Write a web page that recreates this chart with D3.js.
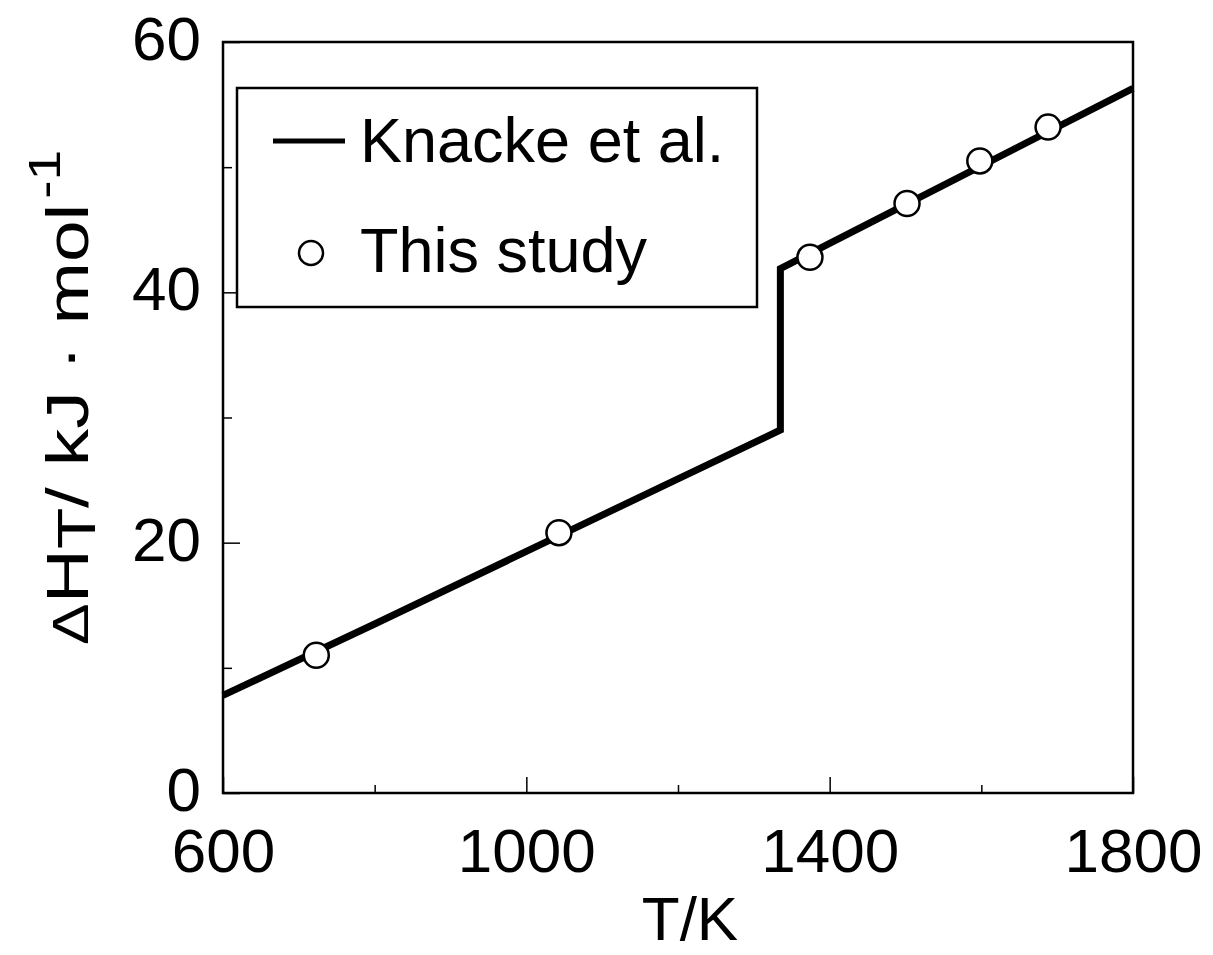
<!DOCTYPE html>
<html><head><meta charset="utf-8">
<script src="https://cdn.jsdelivr.net/npm/d3@7"></script>
<style>
body{margin:0;background:#fff}
text{font-family:"Liberation Sans",Arial,Helvetica,sans-serif;fill:#000}
</style></head>
<body><svg id="c" width="1213" height="955"></svg>
<script>
// Knacke et al. curve (T/K, ΔH_T kJ/mol)
const lineT = [600, 800, 1000, 1200, 1335, 1335, 1500, 1800];
const lineH = [7.8, 13.5, 19.3, 25.1, 29.0, 41.9, 47.0, 56.3];
// This study
const studyT = [723, 1043, 1374, 1502, 1598, 1688];
const studyH = [11.0, 20.8, 42.8, 47.1, 50.5, 53.2];
// ticks
const xMajor = [600, 1000, 1400, 1800];
const xMinor = [800, 1200, 1600];
const yMajor = [0, 20, 40, 60];
const yMinor = [10, 30, 50];
const legendLabels = ["Knacke et al.", "This study"];

const L = 223, R = 1133, T = 42, B = 793;
const svg = d3.select("#c");
const x = d3.scaleLinear().domain([600, 1800]).range([L, R]);
const y = d3.scaleLinear().domain([0, 60]).range([B, T]);

const fs = 62;
// x axis
const gx = svg.append("g").attr("transform", `translate(0,${B})`)
  .call(d3.axisBottom(x).tickValues(xMajor).tickFormat(d3.format("d"))
    .tickSizeInner(-16).tickSizeOuter(0).tickPadding(35));
gx.select(".domain").remove();
gx.selectAll("text").attr("font-size", fs).attr("font-family", null);
gx.selectAll("line").attr("stroke-width", 1.5);
const gxm = svg.append("g").attr("transform", `translate(0,${B})`)
  .call(d3.axisBottom(x).tickValues(xMinor).tickFormat("").tickSizeInner(-8).tickSizeOuter(0));
gxm.select(".domain").remove();
gxm.selectAll("line").attr("stroke-width", 1.5);

// y axis
const gy = svg.append("g").attr("transform", `translate(${L},0)`)
  .call(d3.axisLeft(y).tickValues(yMajor).tickFormat(d3.format("d"))
    .tickSizeInner(-17).tickSizeOuter(0).tickPadding(22));
gy.select(".domain").remove();
gy.selectAll("text").attr("font-size", fs).attr("font-family", null).attr("dy", "0.28em");
gy.selectAll("line").attr("stroke-width", 1.5);
const gym = svg.append("g").attr("transform", `translate(${L},0)`)
  .call(d3.axisLeft(y).tickValues(yMinor).tickFormat("").tickSizeInner(-9).tickSizeOuter(0));
gym.select(".domain").remove();
gym.selectAll("line").attr("stroke-width", 1.5);

// frame
svg.append("rect").attr("x", L).attr("y", T).attr("width", R - L).attr("height", B - T)
  .attr("fill", "none").attr("stroke", "#000").attr("stroke-width", 2.5);

// line
const lineData = lineT.map((t, i) => [t, lineH[i]]);
svg.append("path").datum(lineData)
  .attr("d", d3.line().x(d => x(d[0])).y(d => y(d[1])))
  .attr("fill", "none").attr("stroke", "#000").attr("stroke-width", 7)
  .attr("stroke-linejoin", "miter");

// points
svg.selectAll("circle.pt").data(studyT.map((t, i) => [t, studyH[i]])).enter()
  .append("circle").attr("class", "pt")
  .attr("cx", d => x(d[0])).attr("cy", d => y(d[1])).attr("r", 12.5)
  .attr("fill", "#fff").attr("stroke", "#000").attr("stroke-width", 2.5);

// legend
svg.append("rect").attr("x", 237).attr("y", 88).attr("width", 520).attr("height", 219)
  .attr("fill", "#fff").attr("stroke", "#000").attr("stroke-width", 2.5);
svg.append("line").attr("x1", 273).attr("x2", 345).attr("y1", 141).attr("y2", 141)
  .attr("stroke", "#000").attr("stroke-width", 5);
svg.append("circle").attr("cx", 311).attr("cy", 253).attr("r", 12)
  .attr("fill", "#fff").attr("stroke", "#000").attr("stroke-width", 2.5);
svg.append("text").attr("x", 360).attr("y", 162).attr("font-size", 63).text(legendLabels[0]);
svg.append("text").attr("x", 360).attr("y", 272).attr("font-size", 63).text(legendLabels[1]);

// axis titles
svg.append("text").attr("x", 690).attr("y", 940).attr("text-anchor", "middle")
  .attr("font-size", 62).text("T/K");

const yl = svg.append("text").attr("transform", "translate(88,645) rotate(-90) scale(1.25,1)")
  .attr("font-size", 60);
yl.append("tspan").attr("font-size", 50).text("Δ");
yl.append("tspan").text("H");
yl.append("tspan").attr("font-size", 54).attr("dy", 7).text("T");
yl.append("tspan").attr("dy", -7).text("/ kJ · mol");
yl.append("tspan").attr("font-size", 44).attr("dx", 4).attr("dy", -28).text("-1");
</script></body></html>
